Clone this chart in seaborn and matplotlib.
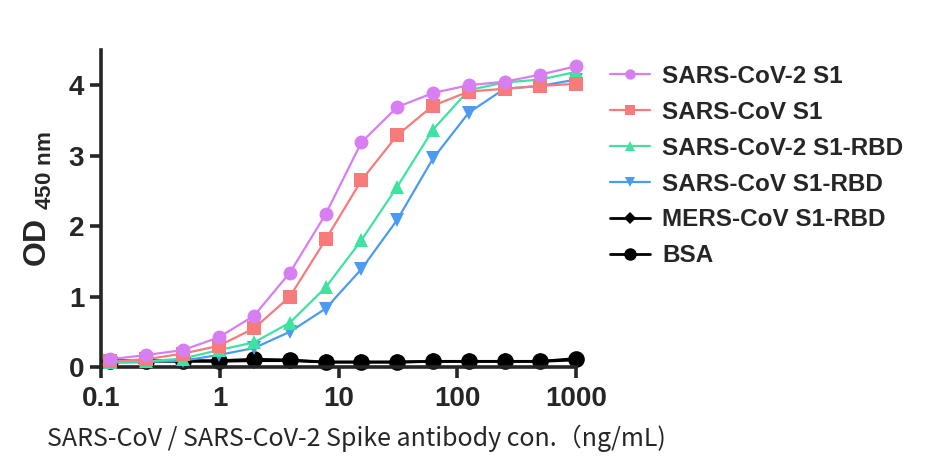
import numpy as np
import pandas as pd
import matplotlib
matplotlib.use("Agg")
import matplotlib.pyplot as plt
import seaborn as sns
from matplotlib.lines import Line2D

# ---- data ----
conc = [0.12, 0.24, 0.49, 0.98, 1.95, 3.9, 7.8, 15.6, 31.25, 62.5, 125, 250, 500, 1000]
sars2_s1 = [0.11, 0.17, 0.24, 0.42, 0.73, 1.34, 2.17, 3.19, 3.69, 3.89, 4.00, 4.05, 4.15, 4.27]
sars_s1 = [0.08, 0.11, 0.19, 0.30, 0.55, 1.00, 1.81, 2.65, 3.29, 3.71, 3.91, 3.95, 3.99, 4.02]
sars2_rbd = [0.07, 0.08, 0.12, 0.24, 0.35, 0.63, 1.13, 1.80, 2.56, 3.37, 3.93, 4.04, 4.08, 4.19]
sars_rbd = [0.06, 0.07, 0.09, 0.17, 0.27, 0.50, 0.83, 1.39, 2.09, 2.96, 3.61, 3.95, 3.99, 4.08]
mers_rbd = [0.08, 0.08, 0.08, 0.08, 0.09, 0.09, 0.07, 0.07, 0.07, 0.08, 0.08, 0.08, 0.08, 0.10]
bsa = [0.09, 0.09, 0.09, 0.09, 0.11, 0.10, 0.07, 0.07, 0.07, 0.08, 0.08, 0.08, 0.08, 0.12]
series_names = ["SARS-CoV-2 S1", "SARS-CoV S1", "SARS-CoV-2 S1-RBD",
                "SARS-CoV S1-RBD", "MERS-CoV S1-RBD", "BSA"]
series_values = [sars2_s1, sars_s1, sars2_rbd, sars_rbd, mers_rbd, bsa]
x_ticks = [0.1, 1, 10, 100, 1000]
x_ticklabels = ["0.1", "1", "10", "100", "1000"]
y_ticks = [0, 1, 2, 3, 4]

colors = ["#D77EF2", "#F77B7B", "#3EE3A0", "#4C9BF2", "#000000", "#000000"]
markers = ["o", "s", "^", "v", "D", "o"]
msizes = [10, 10, 10, 10, 8, 12]

df = pd.concat([pd.DataFrame({"conc": conc, "od": v, "series": n})
                for n, v in zip(series_names, series_values)], ignore_index=True)

sns.set_style("ticks")
plt.rcParams["font.family"] = ["Liberation Sans", "DejaVu Sans"]
plt.rcParams["mathtext.fontset"] = "custom"
plt.rcParams["mathtext.rm"] = "Liberation Sans:bold"
plt.rcParams["mathtext.bf"] = "Liberation Sans:bold"

fig = plt.figure(figsize=(9.48, 4.76), dpi=100)
ax = fig.add_axes([101 / 948, 1 - 367 / 476, (576 - 101) / 948, (367 - 50) / 476])

# draw black baselines first so coloured curves sit on top
for i in [5, 4, 3, 2, 1, 0]:
    sub = df[df["series"] == series_names[i]]
    sns.lineplot(data=sub, x="conc", y="od", ax=ax, color=colors[i],
                 marker=markers[i], markersize=msizes[i], markeredgewidth=0,
                 linewidth=2.0 if colors[i] == "#000000" else 1.6,
                 zorder=3 + (5 - i) if i < 4 else 2,
                 legend=False, clip_on=False)

ax.set_xscale("log")
ax.set_xlim(0.1, 1000)
ax.set_ylim(0, 4.5)
ax.set_xticks(x_ticks)
ax.set_xticklabels(x_ticklabels)
ax.xaxis.set_minor_locator(matplotlib.ticker.NullLocator())
ax.set_yticks(y_ticks)
ax.set_xlabel("")
ax.set_ylabel(r"$\mathbf{OD}$ $_{\mathbf{450\ nm}}$", fontsize=23)
ax.yaxis.set_label_coords(-0.099, 0.53)

for s in ["top", "right"]:
    ax.spines[s].set_visible(False)
for s in ["left", "bottom"]:
    ax.spines[s].set_linewidth(2.6)
ax.tick_params(axis="both", width=2.6, length=8, direction="out", labelsize=20)
ax.tick_params(axis="x", pad=6)
ax.tick_params(axis="y", pad=4)
for lab in ax.get_xticklabels() + ax.get_yticklabels():
    lab.set_fontweight("bold")

# legend
handles = []
for i in range(6):
    handles.append(Line2D([0], [0], color=colors[i], marker=markers[i],
                          markersize=msizes[i] * 0.75, markeredgewidth=0,
                          linewidth=2.0 if colors[i] == "#000000" else 1.6))
leg = fig.legend(handles, series_names, loc="upper left",
                 bbox_to_anchor=(588 / 948, 1 - 43 / 476),
                 frameon=False, handlelength=1.65, handletextpad=0.5, labelspacing=0.53,
                 prop={"family": ["Liberation Sans"], "weight": "bold", "size": 17.5})

fig.text(47 / 948, 1 - 438 / 476,
         "SARS-CoV / SARS-CoV-2 Spike antibody con.（ng/mL)",
         family=["Noto Sans CJK SC", "DejaVu Sans"], fontsize=18,
         ha="left", va="center")

fig.savefig("out.png", dpi=100)
